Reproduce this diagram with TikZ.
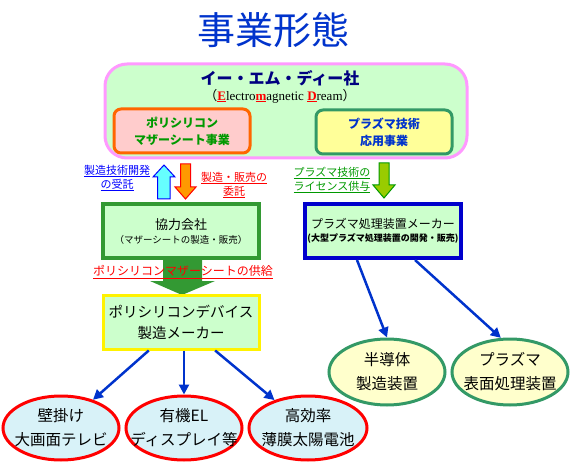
\documentclass[tikz,border=0pt]{standalone}
\usepackage{fontspec}
\setmainfont{Noto Sans CJK JP}
\newfontfamily\latinserif{Liberation Serif}
\usetikzlibrary{arrows.meta,positioning,shapes.geometric}

\definecolor{titleblue}{HTML}{0033CC}
\definecolor{navy}{HTML}{000080}
\definecolor{panelfill}{HTML}{CCFFCC}
\definecolor{panelline}{HTML}{FF99FF}
\definecolor{pinkfill}{HTML}{FFCCCC}
\definecolor{orangeline}{HTML}{FF6600}
\definecolor{lightyellow}{HTML}{FFFF99}
\definecolor{paleyellow}{HTML}{FFFFCC}
\definecolor{seagreen}{HTML}{339966}
\definecolor{boxgreen}{HTML}{339933}
\definecolor{textgreen}{HTML}{009900}
\definecolor{cyanfill}{HTML}{D8F2F8}
\definecolor{arrowblue}{HTML}{0033CC}
\definecolor{upcyan}{HTML}{66FFFF}
\definecolor{downorange}{HTML}{FF9900}
\definecolor{licgreen}{HTML}{99CC00}

\newcommand{\ul}[1]{\underline{#1}}
\newcommand{\redul}[1]{\textcolor{red}{\underline{\textbf{#1}}}}

\begin{document}
\begin{tikzpicture}[x=1pt,y=-1pt,
    box/.style={rectangle, align=center, inner sep=0pt, line width=3pt},
    biz/.style={box, rounded corners=7pt, minimum width=136pt, minimum height=44pt,
                font=\fontsize{12}{17}\selectfont\bfseries},
    firm/.style={box, fill=panelfill, minimum width=156pt, minimum height=54pt},
    product/.style={ellipse, draw=red, line width=3pt, fill=cyanfill, align=center,
                    inner sep=-30pt, minimum width=116pt, minimum height=64pt,
                    font=\fontsize{15.5}{24}\selectfont},
    plasmaprod/.style={product, draw=seagreen, fill=paleyellow},
    note/.style={align=center, inner sep=0pt, font=\fontsize{11}{14}\selectfont},
    arr/.style={-{Triangle[length=10pt,width=10pt]}, line width=2.5pt, draw=arrowblue}
  ]
  \useasboundingbox (0,0) rectangle (573,465);

  % title
  \node[text=titleblue, font=\fontsize{38}{40}\selectfont] (title) at (273,30) {事業形態};

  % company panel
  \node[box, draw=panelline, fill=panelfill, rounded corners=22pt,
        minimum width=362pt, minimum height=94pt] (panel) at (286,111) {};
  \node[text=navy, font=\fontsize{16}{18}\selectfont\bfseries] (emd) at (280,78) {イー・エム・ディー社};
  \node[font=\fontsize{13}{15}\selectfont] (dream) at (280,96)
    {（{\latinserif\redul{E}lectro\redul{m}agnetic \redul{D}ream}）};
  \node[biz, draw=orangeline, fill=pinkfill, text=textgreen] (polybiz) at (182,131)
    {ポリシリコン\\マザーシート事業};
  \node[biz, draw=seagreen, fill=lightyellow, text=titleblue] (plasmabiz) at (384,132)
    {プラズマ技術\\応用事業};

  % block arrows between panel and firms
  \draw[blue, line width=1pt, fill=upcyan] (164,165) -- (175,177) -- (170,177) -- (170,199)
    -- (157.5,199) -- (157.5,177) -- (153,177) -- cycle;
  \draw[red, line width=1pt, fill=downorange] (180.5,164) -- (190.5,164) -- (190.5,187)
    -- (196,187) -- (185.5,199) -- (175,187) -- (180.5,187) -- cycle;
  \draw[textgreen, line width=1pt, fill=licgreen] (379,163) -- (389,163) -- (389,185)
    -- (395,185) -- (384,198) -- (373,185) -- (379,185) -- cycle;

  \node[note, text=blue] (devcontract) at (117,178) {\ul{製造技術開発}\\\ul{の受託}};
  \node[note, text=red] (salecontract) at (234,185) {\ul{製造・販売の}\\\ul{委託}};
  \node[note, text=textgreen] (license) at (332,180) {\ul{プラズマ技術の}\\\ul{ライセンス供与}};

  % firms
  \node[firm, draw=boxgreen, line width=4pt] (partner) at (181,231)
    {{\fontsize{13}{16}\selectfont 協力会社}\\[2pt]{\fontsize{9.5}{12}\selectfont （マザーシートの製造・販売）}};
  \node[firm, draw=blue!80!black, line width=4pt] (plasmamaker) at (383,231)
    {{\fontsize{12}{16}\selectfont プラズマ処理装置メーカー}\\[1pt]{\fontsize{9}{11}\selectfont\bfseries (大型プラズマ処理装置の開発・販売)}};

  % supply arrow
  \fill[boxgreen] (163,260) -- (202,260) -- (202,281) -- (215,281) -- (182,295)
    -- (150,281) -- (163,281) -- cycle;
  \node[note, text=red, font=\fontsize{12}{14}\selectfont] (supply) at (183,272)
    {\ul{ポリシリコンマザーシートの供給}};

  \node[firm, draw=yellow, fill=panelfill, font=\fontsize{14.5}{21}\selectfont] (devmaker) at (181,322)
    {ポリシリコンデバイス\\製造メーカー};

  % products
  \node[product] (wall) at (61,428) {壁掛け\\大画面テレビ};
  \node[product] (oled) at (184,428) {有機EL\\ディスプレイ等};
  \node[product, minimum width=118pt] (solar) at (308,428) {高効率\\薄膜太陽電池};
  \node[plasmaprod, minimum height=66pt] (semi) at (387,372) {半導体\\製造装置};
  \node[plasmaprod, minimum height=66pt] (surface) at (510,372) {プラズマ\\表面処理装置};

  \draw[arr] (devmaker) -- (wall);
  \draw[arr] (devmaker.south -| oled) -- (oled);
  \draw[arr] (devmaker) -- (solar);
  \draw[arr] ([xshift=-26pt]plasmamaker.south) -- (semi.north);
  \draw[arr] ([xshift=32pt]plasmamaker.south) -- (surface.105);
\end{tikzpicture}
\end{document}
